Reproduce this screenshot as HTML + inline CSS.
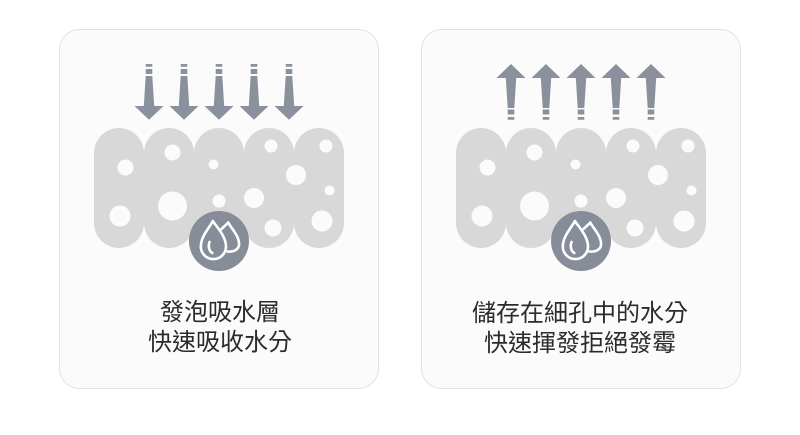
<!DOCTYPE html>
<html><head><meta charset="utf-8"><style>
html,body{margin:0;padding:0;background:#fff}
body{width:800px;height:435px;overflow:hidden;position:relative}
svg{position:absolute;left:0;top:0}
text{font-family:"Liberation Sans","WenQuanYi Zen Hei","Noto Sans CJK TC",sans-serif;font-size:24px;fill:#2b2b2b;text-anchor:middle}
</style></head><body>
<svg width="800" height="435" viewBox="0 0 800 435" xmlns="http://www.w3.org/2000/svg">
<defs>
<g id="blob">
<path fill="#d8d8d8" fill-rule="evenodd" d="M94 153a25 25 0 0 1 50 0a25 25 0 0 1 50 0a25 25 0 0 1 50 0a25 25 0 0 1 50 0a25 25 0 0 1 50 0v70a25 25 0 0 1 -50 0a25 25 0 0 1 -50 0a25 25 0 0 1 -50 0a25 25 0 0 1 -50 0a25 25 0 0 1 -50 0z"/>
<g fill="#fbfbfb">
<circle cx="125.500" cy="167.500" r="8"/><circle cx="172.500" cy="152.500" r="8"/><circle cx="213.500" cy="164.500" r="5"/>
<circle cx="271" cy="146" r="6.500"/><circle cx="326" cy="146" r="6.500"/><circle cx="296" cy="175" r="10"/>
<circle cx="329.500" cy="190.500" r="5"/><circle cx="120" cy="216" r="10.500"/><circle cx="172.500" cy="206" r="14.500"/>
<circle cx="219" cy="201" r="6.500"/><circle cx="254" cy="198" r="10"/><circle cx="273" cy="228" r="8.500"/><circle cx="322" cy="221" r="10.500"/>
</g>
<circle cx="219" cy="241" r="30" fill="#868c98"/>
<g fill="none" stroke="#fff" stroke-width="2.600" stroke-linecap="round" stroke-linejoin="round">
<path d="M212.800 221c-2 5-12 15-12 25.500a12.600 12.600 0 0 0 25.200 0c0-10.500-10-20.500-13.200-25.500z"/>
<path d="M221.500 229c2-2 5-4.500 6.800-6.500c2 4.500 10.800 13 10.800 21.500c0 4.500-4 8.300-11.500 7.500"/>
<path d="M209.500 242c-1.500 4.500-.5 9 2.800 11"/>
</g>
</g>
<path id="d" fill="#8a919d" d="M-3.300 64h6.600v2.700h-6.600zM-3.300 69h6.600v5h-6.600zM-3.300 76h6.600l1.900 30h9.300l-14.500 13.700l-14.500-13.700h9.300z"/>
<path id="u" fill="#8a919d" d="M0 64l14.500 14h-9.300l-1.900 30h-6.600l-1.900-30h-9.300zM-3.300 109.500h6.600v5h-6.600zM-3.300 117h6.600v2.700h-6.600z"/>
</defs>
<rect x="59.500" y="29.500" width="319" height="359" rx="20" fill="#fbfbfb" stroke="#e2e2e2"/>
<rect x="421.500" y="29.500" width="319" height="359" rx="20" fill="#fbfbfb" stroke="#e2e2e2"/>
<use href="#blob"/>
<use href="#blob" x="362"/>
<use href="#d" x="149"/><use href="#d" x="184"/><use href="#d" x="219"/><use href="#d" x="254"/><use href="#d" x="289"/>
<use href="#u" x="511"/><use href="#u" x="546"/><use href="#u" x="581"/><use href="#u" x="616"/><use href="#u" x="651"/>
<text x="220" y="320">發泡吸水層</text>
<text x="220" y="350">快速吸收水分</text>
<text x="580" y="321">儲存在細孔中的水分</text>
<text x="580" y="351">快速揮發拒絕發霉</text>
</svg>
</body></html>
